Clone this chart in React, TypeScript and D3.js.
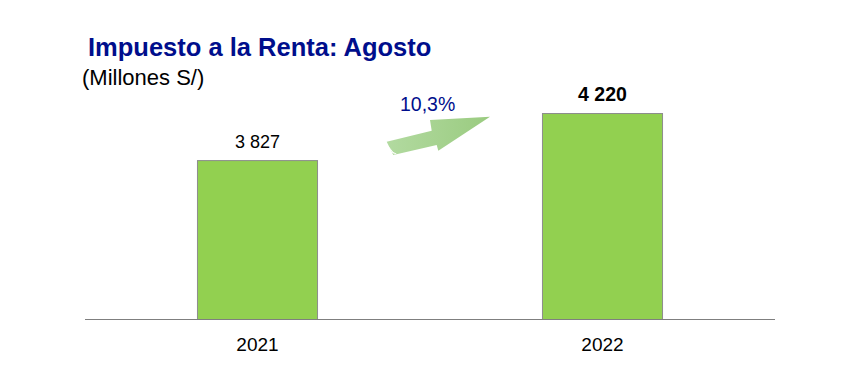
import React from 'react';
import * as d3 from 'd3';

// data
const years = ['2021', '2022'];
const values = [3827, 4220];
const valueLabels = ['3 827', '4 220'];
const growthLabel = '10,3%';

const W = 847;
const H = 389;
const FONT = 'Arial, "Liberation Sans", sans-serif';

export default function App() {
  const x = d3.scaleBand().domain(years).range([85, 775]).paddingInner(0.652).paddingOuter(0.326);
  const y = d3.scaleLinear().domain([2500, 4500]).range([319.5, 80]);
  const base = y(2500);

  // decorative arrow between the bars (striped right arrow)
  const ax = 386;
  const ay = 116;
  const arrow = d3.line()([
    [ax + 0.7, ay + 25.7],
    [ax + 45.7, ay + 14.7],
    [ax + 44, ay + 4],
    [ax + 104, ay + 0.7],
    [ax + 52.3, ay + 34.7],
    [ax + 50.7, ay + 29],
    [ax + 7.3, ay + 39],
  ]) + 'Z';

  return (
    <svg width={W} height={H} style={{ position: 'absolute', left: 0, top: 0, background: '#fff' }}>
      <defs>
        <linearGradient id="arrowGrad" x1="0" y1="0" x2="1" y2="0">
          <stop offset="0" stopColor="#b2daa0" />
          <stop offset="1" stopColor="#9acb80" />
        </linearGradient>
      </defs>

      <text x={88} y={56} fontFamily={FONT} fontSize={25.5} fontWeight="bold" fill="#000e8c">
        Impuesto a la Renta: Agosto
      </text>
      <text x={82} y={85} fontFamily={FONT} fontSize={22} fill="#000">
        (Millones S/)
      </text>

      {years.map((yr, i) => (
        <rect
          key={yr}
          x={x(yr)}
          y={y(values[i])}
          width={x.bandwidth()}
          height={base - y(values[i])}
          fill="#92d050"
          stroke="#8c8c8c"
          strokeWidth={1}
        />
      ))}

      <line x1={85} x2={775} y1={base} y2={base} stroke="#7f7f7f" strokeWidth={1.2} />

      {years.map((yr, i) => (
        <text
          key={'v' + yr}
          x={(x(yr) as number) + x.bandwidth() / 2}
          y={y(values[i]) - 12.5}
          textAnchor="middle"
          fontFamily={FONT}
          fontSize={i === 1 ? 19.5 : 18}
          fontWeight={i === 1 ? 'bold' : 'normal'}
          fill="#000"
        >
          {valueLabels[i]}
        </text>
      ))}

      {years.map((yr) => (
        <text
          key={'l' + yr}
          x={(x(yr) as number) + x.bandwidth() / 2}
          y={350.5}
          textAnchor="middle"
          fontFamily={FONT}
          fontSize={19}
          fill="#000"
        >
          {yr}
        </text>
      ))}

      <path d={arrow} fill="url(#arrowGrad)" />
      {[3, 6].map((d) => (
        <line
          key={d}
          x1={ax + 0.7 + d * 0.5}
          y1={ay + 25.7 + d * 1.6}
          x2={ax + 7.3 + d * 0.5}
          y2={ay + 39 - d * 0.2}
          stroke="#fff"
          strokeWidth={0.9}
        />
      ))}
      <text x={400} y={110.5} fontFamily={FONT} fontSize={19.5} fill="#000e8c">
        {growthLabel}
      </text>
    </svg>
  );
}
